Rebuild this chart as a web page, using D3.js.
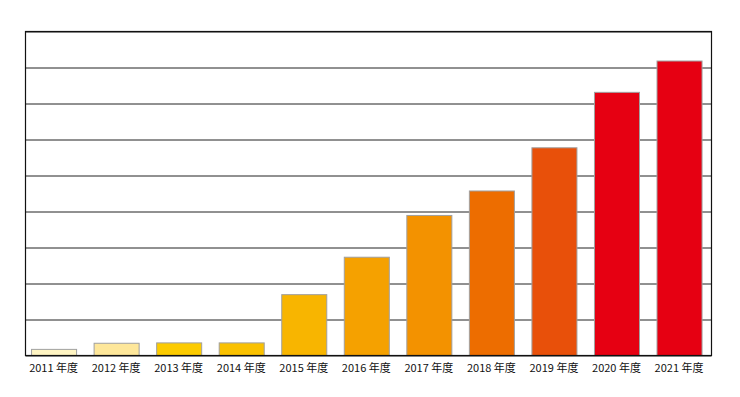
<!DOCTYPE html>
<html><head><meta charset="utf-8">
<script src="https://cdn.jsdelivr.net/npm/d3@7"></script>
<style>body{margin:0;background:#fff}svg{display:block}</style>
</head><body>
<svg id="c" width="740" height="397"></svg>
<script>
const categories = ["2011 年度","2012 年度","2013 年度","2014 年度","2015 年度","2016 年度","2017 年度","2018 年度","2019 年度","2020 年度","2021 年度"];
const values = [0.17, 0.34, 0.35, 0.35, 1.69, 2.73, 3.89, 4.57, 5.77, 7.31, 8.18];
const colors = ["#fff5c3","#fee79a","#fccb00","#fac100","#f8b500","#f5a100","#f39200","#ed6d00","#e8500a","#e60012","#e60012"];
const gridTicks = [0,1,2,3,4,5,6,7,8,9];

const svg = d3.select("#c");
const L = 25.5, R = 711.5, T = 31.5, B = 355.5;
const x = d3.scaleBand().domain(categories).range([22.3, 710.3]).paddingInner(0.28).paddingOuter(0.14);
const y = d3.scaleLinear().domain([0, 9]).range([B, T]);

svg.append("g").selectAll("line").data(gridTicks).join("line")
  .attr("x1", L).attr("x2", R)
  .attr("y1", d => Math.round(y(d)) + 0.5 - 0.5).attr("y2", d => Math.round(y(d)))
  .attr("stroke", "#222").attr("stroke-width", 1);

svg.append("g").selectAll("rect").data(values).join("rect")
  .attr("x", (d,i) => x(categories[i]) + 0.5)
  .attr("y", d => y(d))
  .attr("width", x.bandwidth())
  .attr("height", d => B - y(d))
  .attr("fill", (d,i) => colors[i])
  .attr("stroke", "#a0a0a0").attr("stroke-width", 1);

svg.append("rect").attr("x", L).attr("y", T).attr("width", R - L).attr("height", B - T)
  .attr("fill", "none").attr("stroke", "#111").attr("stroke-width", 1.2);

const ax = svg.append("g").attr("transform", `translate(0,${B})`)
  .call(d3.axisBottom(x).tickSize(0).tickPadding(9));
ax.select(".domain").remove();
ax.selectAll("text").attr("font-family", "'Noto Sans CJK JP', 'Noto Sans', sans-serif")
  .attr("font-size", 11).attr("fill", "#111");
</script>
</body></html>
